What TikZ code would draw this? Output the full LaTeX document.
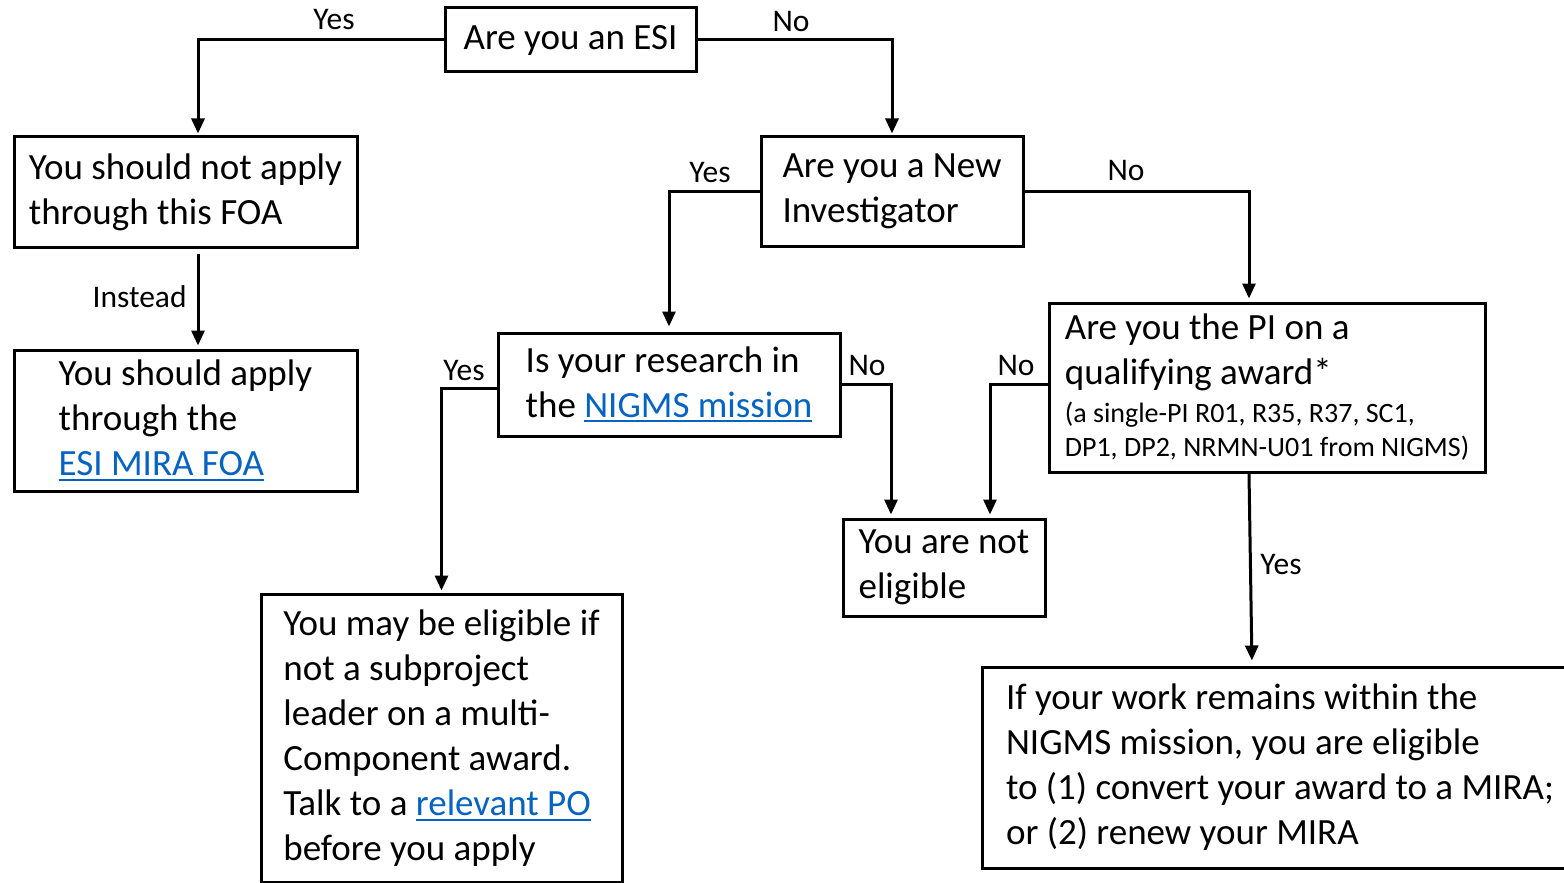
\documentclass[tikz,border=0pt]{standalone}
\usepackage{fontspec}
\setmainfont{Carlito}
\usetikzlibrary{arrows.meta}
\definecolor{linkblue}{HTML}{0563C1}
\newcommand{\lnk}[1]{\textcolor{linkblue}{\setbox0\hbox{#1}\rlap{\rule[-2.6pt]{\wd0}{1pt}}\box0}}
\newcommand{\smallf}{\fontsize{14}{17}\selectfont}
\tikzset{
  box/.style={draw, line width=1.5pt, inner sep=0pt, align=left, font=\fontsize{18.5}{22.5}\selectfont},
  lbl/.style={font=\fontsize{15.75}{18}\selectfont, inner sep=0pt},
  arr/.style={line width=1.5pt, -{Triangle[width=6.5pt,length=7.5pt]}}
}
\begin{document}
\begin{tikzpicture}[x=0.5pt,y=-0.5pt]
\useasboundingbox (0,0) rectangle (1564,883);
\clip (0,0) rectangle (1564,883);
\fill[white] (0,0) rectangle (1564,883);
% boxes
\node[box, minimum width=125.5pt, minimum height=32pt] (esi) at (570.5,40) {Are you an ESI};
\node[box, minimum width=171.5pt, minimum height=55pt] (notapply) at (185.5,192) {You should not apply\\through this FOA};
\node[box, minimum width=171.5pt, minimum height=70.5pt] (apply) at (185.5,420.5) {You should apply\\through the\\\lnk{ESI MIRA FOA}};
\node[box, minimum width=131pt, minimum height=54.5pt] (newinv) at (892,191.5) {Are you a New\\Investigator};
\node[box, minimum width=171pt, minimum height=51.5pt] (nigms) at (669,384.5) {Is your research in\\the \lnk{NIGMS mission}};
\node[box, minimum width=218pt, minimum height=84.5pt] (pi) at (1267,387.5) {Are you the PI on a\\qualifying award*\\[-3.5pt]{\smallf (a single-PI R01, R35, R37, SC1,}\\[-5.5pt]{\smallf DP1, DP2, NRMN-U01 from NIGMS)}};
\node[box, minimum width=101pt, minimum height=48.5pt] (noteligible) at (944,567.5) {You are not\\eligible};
\node[box, minimum width=180.5pt, minimum height=144pt] (maybe) at (441.5,738) {You may be eligible if\\not a subproject\\leader on a multi-\\Component award.\\Talk to a \lnk{relevant PO}\\before you apply};
\node[box, minimum width=297.5pt, minimum height=100.5pt] (mira) at (1280,767.5) {If your work remains within the\\NIGMS mission, you are eligible\\to (1) convert your award to a MIRA;\\or (2) renew your MIRA};
% connectors
\draw[arr, shorten >=1pt] (esi.west) -| ([xshift=6.25pt]notapply.north);
\draw[arr, shorten >=1pt] (esi.east) -| (newinv.north);
\draw[arr, shorten <=2.5pt, shorten >=1.5pt] ([xshift=6.25pt]notapply.south) -- ([xshift=6.25pt]apply.north);
\draw[arr, shorten >=2.5pt] (newinv.west) -| (nigms.north);
\draw[arr, shorten >=1.5pt] (newinv.east) -| ([xshift=-9pt]pi.north);
\draw[arr, shorten >=1pt] ([yshift=-1.75pt]nigms.west) -| (maybe.north);
\draw[arr, shorten >=1.5pt] (nigms.east) -| ([xshift=-26.5pt]noteligible.north);
\draw[arr, shorten >=1.5pt] ([yshift=1.75pt]pi.west) -| ([xshift=23pt]noteligible.north);
\draw[arr, shorten >=2.5pt] ([xshift=-9pt]pi.south) -- ([xshift=-14pt]mira.north);
% labels
\node[lbl] (l1) at (334,20) {Yes};
\node[lbl] (l2) at (791,22) {No};
\node[lbl, anchor=east] (l3) at (187,297) {Instead};
\node[lbl] (l4) at (710,173) {Yes};
\node[lbl] (l5) at (1126,171) {No};
\node[lbl] (l6) at (464,371) {Yes};
\node[lbl] (l7) at (867,366) {No};
\node[lbl] (l8) at (1016,366) {No};
\node[lbl] (l9) at (1281,565) {Yes};
\end{tikzpicture}
\end{document}
